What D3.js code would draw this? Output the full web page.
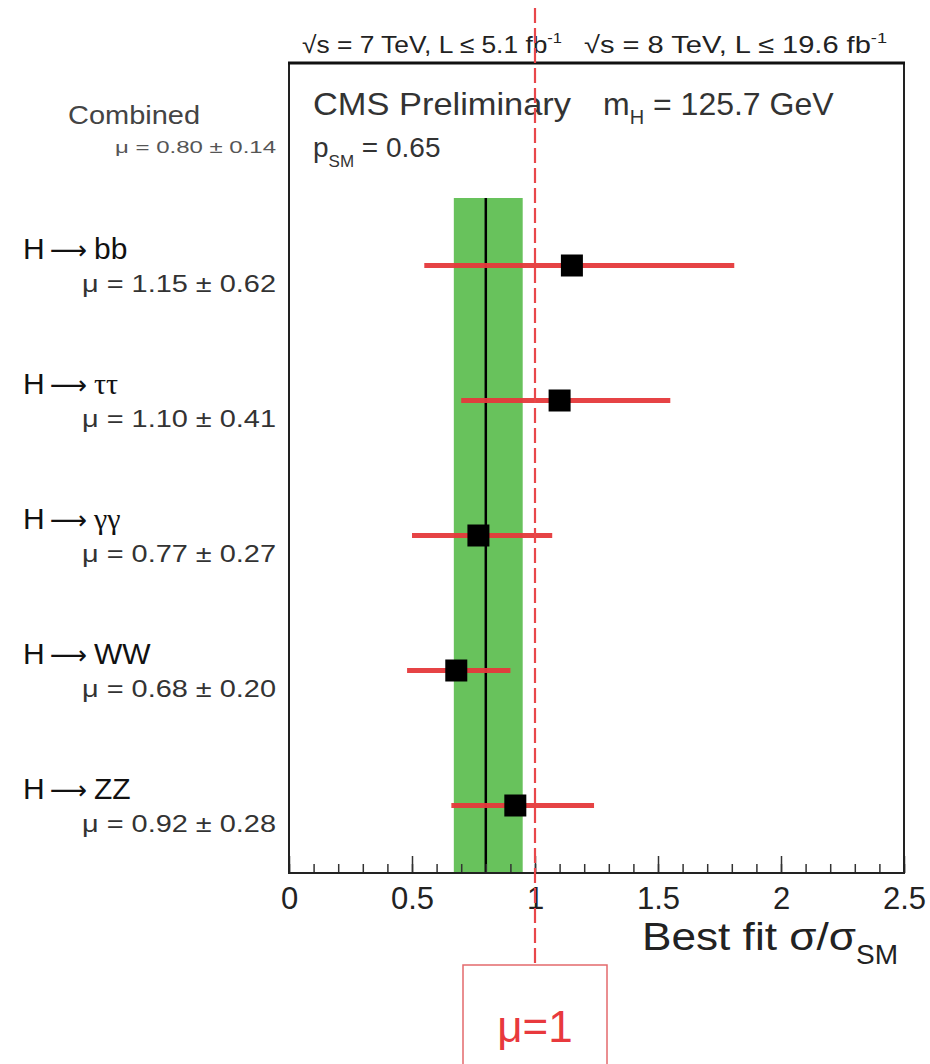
<!DOCTYPE html>
<html>
<head>
<meta charset="utf-8">
<script src="https://cdn.jsdelivr.net/npm/d3@7"></script>
<style>
  body { margin: 0; background: #fff; }
  svg { display: block; font-family: "Liberation Sans", Arial, Helvetica, sans-serif; }
</style>
</head>
<body>
<svg width="930" height="1064"></svg>
<script>
// channels, top row is the combined fit
let channels = ["Combined", "bb", "ττ", "γγ", "WW", "ZZ"];
let muValues = [0.80, 1.15, 1.10, 0.77, 0.68, 0.92];
let muQuoted = [0.14, 0.62, 0.41, 0.27, 0.20, 0.28];
// error bar ends as drawn (asymmetric)
let errMinus = [0.13, 0.60, 0.40, 0.27, 0.20, 0.26];
let errPlus  = [0.15, 0.66, 0.45, 0.30, 0.22, 0.32];
let xTicks = [0, 0.5, 1, 1.5, 2, 2.5];
let xTickLabels = ["0", "0.5", "1", "1.5", "2", "2.5"];
let smValue = 1;

let svg = d3.select("svg"),
  frame = {left: 289, right: 904, top: 63, bottom: 873};

let x = d3.scaleLinear().domain([0, 2.5]).range([frame.left, frame.right]);
let y = d3.scaleBand().domain(channels).range([frame.top, frame.bottom]);
let yc = function(c) { return y(c) + y.bandwidth() / 2; };

let rows = channels.map(function(c, i) {
  return {name: c, mu: muValues[i], q: muQuoted[i], lo: muValues[i] - errMinus[i], hi: muValues[i] + errPlus[i]};
});
let comb = rows[0];
let bandTop = y(channels[1]);

// combined band
svg.append("rect")
  .attr("x", x(comb.lo))
  .attr("y", bandTop)
  .attr("width", x(comb.hi) - x(comb.lo))
  .attr("height", frame.bottom - bandTop)
  .attr("fill", "#68c25c");

svg.append("line")
  .attr("x1", x(comb.mu)).attr("x2", x(comb.mu))
  .attr("y1", bandTop).attr("y2", frame.bottom)
  .attr("stroke", "#000").attr("stroke-width", 2.5);

// minor + major ticks pointing inwards
svg.append("g")
  .attr("transform", "translate(0," + frame.bottom + ")")
  .call(d3.axisBottom(x).tickValues(d3.range(0, 26).map(function(i) { return i / 10; })).tickSize(-9).tickFormat(""))
  .call(function(g) { g.select(".domain").remove(); g.selectAll("line").attr("stroke", "#333").attr("stroke-width", 1.5); });

let xAxis = svg.append("g")
  .attr("transform", "translate(0," + frame.bottom + ")")
  .call(d3.axisBottom(x).tickValues(xTicks).tickSize(-17).tickPadding(14)
    .tickFormat(function(d, i) { return xTickLabels[i]; }));
xAxis.select(".domain").remove();
xAxis.selectAll("line").attr("stroke", "#333").attr("stroke-width", 1.5);
xAxis.selectAll("text").attr("font-size", 31).attr("fill", "#222")
  .attr("font-family", "'Liberation Sans', Arial, sans-serif");

// error bars and points
let pts = rows.slice(1);
svg.selectAll(".err")
  .data(pts)
  .enter().append("line")
  .attr("class", "err")
  .attr("x1", function(d) { return x(d.lo); })
  .attr("x2", function(d) { return x(d.hi); })
  .attr("y1", function(d) { return yc(d.name); })
  .attr("y2", function(d) { return yc(d.name); })
  .attr("stroke", "#e5393b").attr("stroke-width", 5).attr("stroke-opacity", 0.95);

svg.selectAll(".pt")
  .data(pts)
  .enter().append("rect")
  .attr("class", "pt")
  .attr("x", function(d) { return x(d.mu) - 11; })
  .attr("y", function(d) { return yc(d.name) - 11; })
  .attr("width", 22).attr("height", 22)
  .attr("fill", "#000");

// frame
svg.append("rect")
  .attr("x", frame.left).attr("y", frame.top)
  .attr("width", frame.right - frame.left).attr("height", frame.bottom - frame.top)
  .attr("fill", "none").attr("stroke", "#222").attr("stroke-width", 2);
svg.append("line")
  .attr("x1", frame.left - 1).attr("x2", frame.right + 1)
  .attr("y1", frame.top).attr("y2", frame.top)
  .attr("stroke", "#111").attr("stroke-width", 3);

// row labels
let fmt = d3.format(".2f");
let greek = {"ττ": true, "γγ": true};
rows.forEach(function(d, i) {
  let cy = yc(d.name);
  if (i === 0) {
    svg.append("text").attr("x", 68).attr("y", cy - 7)
      .attr("font-size", 25).attr("fill", "#444")
      .attr("textLength", 132).attr("lengthAdjust", "spacingAndGlyphs")
      .text("Combined");
    svg.append("text").attr("x", 276).attr("y", cy + 22)
      .attr("text-anchor", "end").attr("font-size", 17).attr("fill", "#555")
      .attr("textLength", 161).attr("lengthAdjust", "spacingAndGlyphs")
      .text("μ = " + fmt(d.mu) + " ± " + fmt(d.q));
    return;
  }
  let t = svg.append("text").attr("x", 23).attr("y", cy - 7)
    .attr("font-size", 30).attr("fill", "#111");
  t.append("tspan").text("H");
  t.append("tspan").attr("dx", 5).attr("font-family", "'DejaVu Sans', sans-serif").attr("font-size", 26).text("⟶");
  t.append("tspan")
    .attr("dx", 7)
    .attr("font-family", greek[d.name] ? "'Liberation Serif', 'DejaVu Serif', serif" : null)
    .text(d.name);
  svg.append("text").attr("x", 276).attr("y", cy + 26)
    .attr("text-anchor", "end").attr("font-size", 23).attr("fill", "#333")
    .attr("textLength", 194).attr("lengthAdjust", "spacingAndGlyphs")
    .text("μ = " + fmt(d.mu) + " ± " + fmt(d.q));
});

// header
let h1 = svg.append("text").attr("x", 302).attr("y", 53).attr("font-size", 24).attr("fill", "#222")
  .attr("textLength", 260).attr("lengthAdjust", "spacingAndGlyphs");
h1.append("tspan").text("√s = 7 TeV, L ≤ 5.1 fb");
h1.append("tspan").attr("dy", -10).attr("font-size", 15).text("-1");
let h2 = svg.append("text").attr("x", 584).attr("y", 53).attr("font-size", 24).attr("fill", "#222")
  .attr("textLength", 303).attr("lengthAdjust", "spacingAndGlyphs");
h2.append("tspan").text("√s = 8 TeV, L ≤ 19.6 fb");
h2.append("tspan").attr("dy", -10).attr("font-size", 15).text("-1");

svg.append("text").attr("x", 313).attr("y", 115).attr("font-size", 32).attr("fill", "#333")
  .attr("textLength", 258).attr("lengthAdjust", "spacingAndGlyphs")
  .text("CMS Preliminary");
let mh = svg.append("text").attr("x", 603).attr("y", 115).attr("font-size", 32).attr("fill", "#333");
mh.append("tspan").text("m");
mh.append("tspan").attr("dy", 9).attr("font-size", 20).text("H");
mh.append("tspan").attr("dy", -9).text(" = 125.7 GeV");
let psm = svg.append("text").attr("x", 313).attr("y", 157).attr("font-size", 28).attr("fill", "#333");
psm.append("tspan").text("p");
psm.append("tspan").attr("dy", 10).attr("font-size", 17).text("SM");
psm.append("tspan").attr("dy", -10).text(" = 0.65");

// x title
let xt = svg.append("text").attr("x", 642).attr("y", 950).attr("font-size", 38).attr("fill", "#222");
xt.append("tspan").attr("textLength", 214).attr("lengthAdjust", "spacingAndGlyphs").text("Best fit σ/σ");
xt.append("tspan").attr("dy", 14).attr("font-size", 28).text("SM");

// mu = 1 line and box
svg.append("line")
  .attr("x1", x(smValue)).attr("x2", x(smValue))
  .attr("y1", 8).attr("y2", 965)
  .attr("stroke", "#e8474b").attr("stroke-width", 2.2)
  .attr("stroke-dasharray", "15,5");
svg.append("rect")
  .attr("x", x(smValue) - 72).attr("y", 965)
  .attr("width", 144).attr("height", 110)
  .attr("fill", "#fff").attr("stroke", "#e36a6c").attr("stroke-width", 1.5);
svg.append("text").attr("x", x(smValue)).attr("y", 1042)
  .attr("text-anchor", "middle").attr("font-size", 44).attr("fill", "#e8393d")
  .text("μ=1");
</script>
</body>
</html>
